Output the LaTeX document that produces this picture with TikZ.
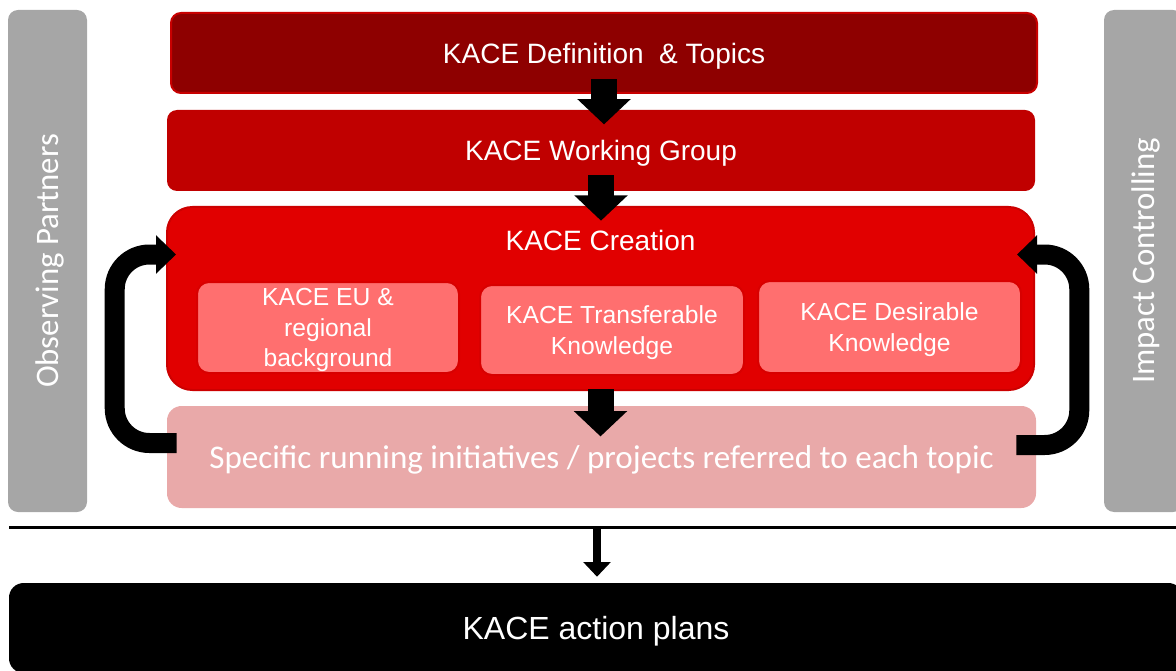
\documentclass[tikz,border=0pt]{standalone}
\usepackage{fontspec}
\setmainfont{Liberation Sans}
\newfontfamily\calibri{Carlito}
\usetikzlibrary{positioning, arrows.meta, calc}
\definecolor{defred}{HTML}{8E0000}
\definecolor{defborder}{HTML}{C80000}
\definecolor{wgred}{HTML}{C00000}
\definecolor{crtred}{HTML}{E10000}
\definecolor{crtborder}{HTML}{CC0000}
\definecolor{subred}{HTML}{FF6F6F}
\definecolor{subborder}{HTML}{D80000}
\definecolor{specpink}{HTML}{E9A9A9}
\definecolor{sidegray}{HTML}{A6A6A6}

\begin{document}
\begin{tikzpicture}[
 x=0.75pt, y=-0.75pt,
 box/.style={rounded corners=7.5pt, text=white, inner sep=0pt, align=center, text depth=0pt,
   font=\fontsize{21}{25}\selectfont},
 subbox/.style={box, fill=subred, draw=subborder, line width=1.5pt, rounded corners=9pt,
   font=\fontsize{18.5}{23}\selectfont},
 sidebar/.style={fill=sidegray, rounded corners=7.5pt, rotate=90, inner sep=0pt, text depth=0pt,
   minimum width=376.5pt, minimum height=59.25pt, text=white,
   font=\calibri\fontsize{24.6}{28}\selectfont},
 blockarrow/.style={line width=19.5pt, -{Triangle[width=39pt,length=19pt]}},
 looparrow/.style={line width=15pt, rounded corners=26pt, -{Triangle[width=28pt,length=15pt]}}
]
 \useasboundingbox (0,0) rectangle (1176,670);

 % Side bars
 \node[sidebar] (obs) at (47.5,261) {Observing Partners};
 \node[sidebar] (imp) at (1143.5,261) {Impact Controlling};

 % Main stack
 \node[box, fill=defred, draw=defborder, line width=1.5pt, minimum width=649.5pt, minimum height=60pt]
   (def) at (604,53) {KACE Definition\ \ \& Topics};
 \node[box, fill=wgred, minimum width=651pt, minimum height=60.75pt]
   (wg) at (601,150.5) {KACE Working Group};
 \node[box, fill=crtred, draw=crtborder, line width=1.5pt, rounded corners=19pt,
   minimum width=650.25pt, minimum height=137.25pt] (crt) at (600.5,298.5) {};
 \node[box] (crtlbl) at ([yshift=-26pt]crt.north) {KACE Creation};
 \node[box, fill=specpink, rounded corners=11pt, minimum width=651.75pt, minimum height=76.5pt,
   font=\calibri\fontsize{24.8}{28}\selectfont]
   (spec) at (601.5,457) {Specific running initiatives / projects referred to each topic};

 % Inner boxes of KACE Creation
 \node[subbox, minimum width=196.5pt, minimum height=68.25pt] (eu) at (328,327.5) {KACE EU \&\\regional\\background};
 \node[subbox, minimum width=198pt, minimum height=67.5pt] (trans) at (612,330) {KACE Transferable\\Knowledge};
 \node[subbox, minimum width=197.25pt, minimum height=69pt] (desir) at (889.5,327) {KACE Desirable\\Knowledge};

 % Action plans below the rule
 \node[box, fill=black, rounded corners=11pt, minimum width=880.5pt, minimum height=67.5pt,
   font=\fontsize{24}{28}\selectfont] (plans) at (596,628) {KACE action plans};
 \coordinate (rulel) at (9,527);
 \coordinate (ruler) at (1180,527);
 \coordinate (rulem) at (597,527);
 \draw[line width=2.25pt] (rulel) -- (ruler);

 % Block arrows down the stack
 \draw[blockarrow] ([yshift=11pt]def.south) -- ([yshift=-11pt]def.south |- wg.north);
 \draw[blockarrow] ([yshift=12pt]wg.south) -- ([yshift=-11pt]wg.south |- crt.north);
 \draw[blockarrow] ([yshift=1.5pt]crt.south) -- ([yshift=-23pt]crt.south |- spec.north);
 \draw[line width=5.5pt, -{Triangle[width=20pt,length=11pt]}] (rulem) -- ([yshift=4.5pt]rulem |- plans.north);

 % Feedback loops from the initiatives back to KACE Creation
 \draw[looparrow] ([xshift=7.5pt,yshift=10.5pt]spec.west) -- ++(-62,0) |- ([xshift=7.5pt,yshift=33pt]crt.west);
 \draw[looparrow] ([xshift=-15pt,yshift=9pt]spec.east) -- ++(63,0) |- ([xshift=-13.5pt,yshift=33pt]crt.east);
\end{tikzpicture}
\end{document}
